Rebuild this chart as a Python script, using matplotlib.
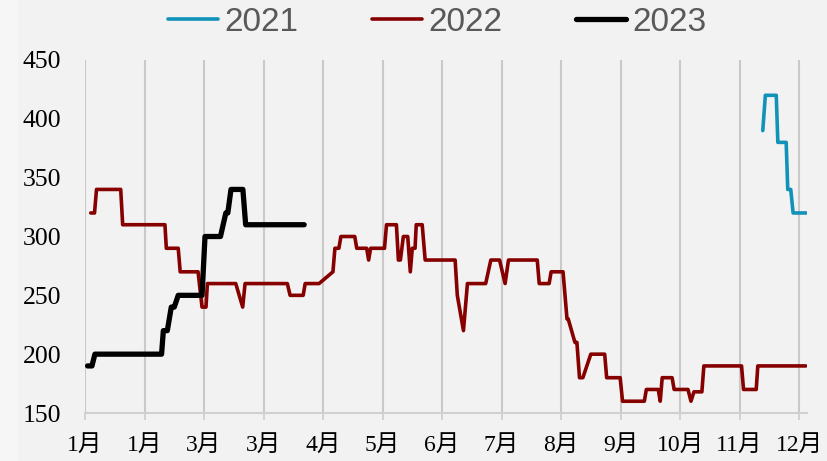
import matplotlib.pyplot as plt
from matplotlib.patches import Rectangle

# x in days from the first tick, one tick every 30 days
tick_labels = ["1月", "1月", "3月", "3月", "4月", "5月", "6月", "7月", "8月", "9月", "10月", "11月", "12月"]
tick_days = [0, 30, 60, 90, 120, 150, 180, 210, 240, 270, 300, 330, 360]

days_2021 = [341.7, 343, 348.5, 349.3, 353.5, 354.3, 355.8, 357, 363.6]
vals_2021 = [390, 420, 420, 380, 380, 340, 340, 320, 320]

days_2022 = [2.9, 4.8, 5.8, 18, 19, 40.3, 41, 47, 48, 57,
             59, 61, 61.7, 76, 79.5, 80.7, 102, 103.4, 110, 111,
             118, 125, 126, 128, 129, 136, 137, 142, 143, 144,
             151, 152, 157, 158, 159, 160.5, 162.7, 164, 165, 166.4,
             167, 170, 171.5, 186.6, 187.7, 190.8, 192.8, 202, 204.6, 209,
             211.8, 213.5, 228, 229, 234, 235, 241, 241.5, 243, 243.6,
             247, 248, 249.3, 251, 255, 262, 263, 269.8, 271, 282,
             283, 289, 290, 291, 296, 297, 304, 305.5, 307, 311,
             312, 331, 332, 338.4, 339.2, 363.4]
vals_2022 = [320, 320, 340, 340, 310, 310, 290, 290, 270, 270,
             240, 240, 260, 260, 240, 260, 260, 250, 250, 260,
             260, 270, 290, 290, 300, 300, 290, 290, 280, 290,
             290, 310, 310, 280, 280, 300, 300, 270, 290, 290,
             310, 310, 280, 280, 250, 220, 260, 260, 280, 280,
             260, 280, 280, 260, 260, 270, 270, 260, 230, 230,
             210, 210, 180, 180, 200, 200, 180, 180, 160, 160,
             170, 170, 160, 180, 180, 170, 170, 160, 168, 168,
             190, 190, 170, 170, 190, 190]

days_2023 = [1.3, 3.5, 5, 38.6, 39.5, 41.5, 43.5, 45, 47, 59,
             60.5, 68.3, 71, 72, 73.6, 79.6, 81, 110.5]
vals_2023 = [190, 190, 200, 200, 220, 220, 240, 240, 250, 250,
             300, 300, 320, 320, 340, 340, 310, 310]

bg = "#f2f2f2"
grid_col = "#c9c9c9"

fig = plt.figure(figsize=(8.27, 4.61), dpi=100, facecolor=bg)
fig.patches.append(Rectangle((0, 0), 18 / 827, 1, transform=fig.transFigure,
                             facecolor="#f6f6f6", edgecolor="none", zorder=-1))
ax = fig.add_axes([85 / 827, 48 / 461, 722 / 827, 353 / 461])
ax.set_facecolor(bg)

style = dict(solid_joinstyle="round", solid_capstyle="round")
ax.plot(days_2021, vals_2021, color="#1192b8", lw=2.6, label="2021", zorder=3, **style)
ax.plot(days_2022, vals_2022, color="#860000", lw=2.6, label="2022", zorder=3, **style)
ax.plot(days_2023, vals_2023, color="black", lw=3.8, label="2023", zorder=4, **style)

ax.set_xlim(0, 364)
ax.set_ylim(150, 450)
ax.set_yticks([150, 200, 250, 300, 350, 400, 450])
ax.set_xticks(tick_days)
ax.set_xticklabels(tick_labels, family=["Liberation Serif", "Noto Sans CJK SC"], fontsize=17)
for lab in ax.get_yticklabels():
    lab.set_family("Liberation Serif")
    lab.set_fontsize(18.5)

ax.grid(axis="x", color=grid_col, lw=1.5)
ax.set_axisbelow(True)
for side in ["top", "right", "left"]:
    ax.spines[side].set_visible(False)
ax.spines["bottom"].set_color("#d0d0d0")
ax.spines["bottom"].set_linewidth(1.5)
ax.tick_params(axis="y", length=0, pad=17)
ax.tick_params(axis="x", length=5, width=1.1, color=grid_col, direction="out", pad=11)

fig.legend(loc="center", bbox_to_anchor=(0.529, 0.951), ncol=3, frameon=False,
           handlelength=1.5, handletextpad=0.2, columnspacing=2.2,
           prop={"family": "Liberation Sans", "size": 24}, labelcolor="#595959")

fig.savefig("out.png", dpi=100, facecolor=bg)
